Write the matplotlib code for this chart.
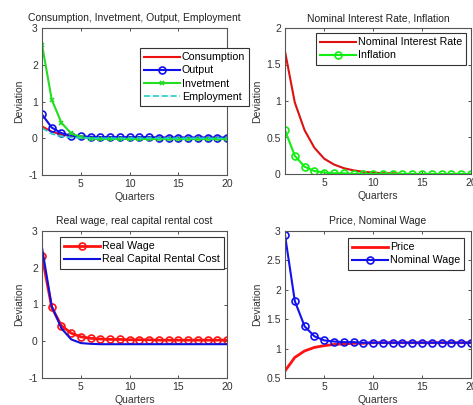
import matplotlib
matplotlib.use("Agg")
import matplotlib.pyplot as plt

plt.rcParams['font.family'] = ['Liberation Sans', 'DejaVu Sans']
plt.rcParams['axes.unicode_minus'] = False

quarters = list(range(1, 21))

# Panel 1: consumption, investment, output, employment
consumption = [0.32, 0.18, 0.10, 0.06, 0.04, 0.03, 0.02, 0.02, 0.01, 0.01,
               0.01, 0.01, 0.01, 0.01, 0.01, 0.01, 0.01, 0.01, 0.01, 0.01]
output = [0.65, 0.29, 0.14, 0.07, 0.05, 0.04, 0.03, 0.03, 0.03, 0.03,
          0.03, 0.03, 0.02, 0.02, 0.02, 0.02, 0.02, 0.02, 0.02, 0.02]
investment = [2.55, 1.05, 0.42, 0.13, 0.03, -0.01, -0.02, -0.02, -0.02, -0.02,
              -0.02, -0.02, -0.02, -0.02, -0.02, -0.02, -0.02, -0.02, -0.02, -0.02]
employment = [0.28, 0.12, 0.05, 0.02, 0.01, 0.00, 0.00, 0.00, 0.00, 0.00,
              0.00, 0.00, 0.00, 0.00, 0.00, 0.00, 0.00, 0.00, 0.00, 0.00]

# Panel 2: nominal interest rate, inflation
interest = [1.68, 0.98, 0.60, 0.36, 0.21, 0.13, 0.08, 0.05, 0.03, 0.02,
            0.01, 0.01, 0.00, 0.00, 0.00, 0.00, 0.00, 0.00, 0.00, 0.00]
inflation = [0.60, 0.25, 0.10, 0.04, 0.02, 0.01, 0.01, 0.00, 0.00, 0.00,
             0.00, 0.00, 0.00, 0.00, 0.00, 0.00, 0.00, 0.00, 0.00, 0.00]

# Panel 3: real wage, real capital rental cost
real_wage = [2.32, 0.92, 0.42, 0.22, 0.12, 0.08, 0.06, 0.05, 0.05, 0.04,
             0.04, 0.04, 0.03, 0.03, 0.03, 0.03, 0.03, 0.03, 0.03, 0.03]
rental_cost = [2.55, 0.95, 0.35, 0.05, -0.05, -0.07, -0.08, -0.08, -0.08, -0.08,
               -0.08, -0.08, -0.08, -0.08, -0.08, -0.08, -0.08, -0.08, -0.08, -0.08]

# Panel 4: price, nominal wage
price = [0.62, 0.85, 0.96, 1.02, 1.05, 1.07, 1.08, 1.09, 1.09, 1.10,
         1.10, 1.10, 1.10, 1.10, 1.10, 1.10, 1.10, 1.10, 1.10, 1.10]
nominal_wage = [2.93, 1.81, 1.38, 1.21, 1.14, 1.12, 1.11, 1.11, 1.10, 1.10,
                1.10, 1.10, 1.10, 1.10, 1.10, 1.10, 1.10, 1.10, 1.10, 1.10]

W, H = 473, 405
fig = plt.figure(figsize=(W / 100, H / 100), dpi=100)

def px_axes(left, top, right, bottom):
    return fig.add_axes([left / W, 1 - bottom / H, (right - left) / W, (bottom - top) / H])

FS = 7.5
LFS = 7.7
edge = '#555555'

def style(ax, title, ylim, yticks):
    ax.set_xlim(1, 20)
    ax.set_ylim(*ylim)
    ax.set_xticks([5, 10, 15, 20])
    ax.set_yticks(yticks)
    ax.set_yticklabels(['%g' % v for v in yticks])
    ax.tick_params(direction='in', top=True, right=True, length=2.5, width=0.6,
                   labelsize=FS, colors='#333333', pad=3)
    for s in ax.spines.values():
        s.set_color(edge)
        s.set_linewidth(0.8)
    ax.set_title(title, fontsize=FS, color='#222222', pad=5)
    ax.set_xlabel('Quarters', fontsize=FS, color='#333333', labelpad=2)
    ax.set_ylabel('Deviation', fontsize=FS, color='#333333', labelpad=3)

def legend(ax, x, y):
    leg = ax.legend(loc='upper left', bbox_to_anchor=(x / W, 1 - y / H),
                    bbox_transform=fig.transFigure, borderaxespad=0,
                    fontsize=LFS, fancybox=False, framealpha=1, edgecolor='#333333',
                    handlelength=3.3, handletextpad=0.2, labelspacing=0.3,
                    borderpad=0.4)
    leg.get_frame().set_linewidth(0.8)
    return leg

# Top-left
ax1 = px_axes(42, 28, 227, 175)
ax1.plot(quarters, consumption, color='#ee1111', lw=1.5, label='Consumption')
ax1.plot(quarters, output, color='#1010ee', lw=1.5, marker='o', ms=5,
         mfc='none', mew=1.2, label='Output')
ax1.plot(quarters, investment, color='#22dd22', lw=1.5, marker='x', ms=3,
         mew=1.2, label='Invetment')
ax1.plot(quarters, employment, color='#22cccc', lw=1.2, ls='--', label='Employment')
style(ax1, 'Consumption, Invetment, Output, Employment', (-1, 3), [-1, 0, 1, 2, 3])
legend(ax1, 140, 48)

# Top-right
ax2 = px_axes(285, 28, 471, 174)
ax2.plot(quarters, interest, color='#dd1111', lw=1.5, label='Nominal Interest Rate')
ax2.plot(quarters, inflation, color='#11ee11', lw=1.5, marker='o', ms=5,
         mfc='none', mew=1.2, label='Inflation')
style(ax2, 'Nominal Interest Rate, Inflation', (0, 2), [0, 0.5, 1, 1.5, 2])
legend(ax2, 316, 33)

# Bottom-left
ax3 = px_axes(42, 231, 227, 378)
ax3.plot(quarters, real_wage, color='#ff1111', lw=2, marker='o', ms=5,
         mfc='none', mew=1.2, label='Real Wage')
ax3.plot(quarters, rental_cost, color='#1111dd', lw=1.5, label='Real Capital Rental Cost')
style(ax3, 'Real wage, real capital rental cost', (-1, 3), [-1, 0, 1, 2, 3])
legend(ax3, 60, 237)

# Bottom-right
ax4 = px_axes(285, 231, 471, 378)
ax4.plot(quarters, price, color='#ff1111', lw=2, label='Price')
ax4.plot(quarters, nominal_wage, color='#1111ee', lw=1.5, marker='o', ms=5,
         mfc='none', mew=1.2, label='Nominal Wage')
style(ax4, 'Price, Nominal Wage', (0.5, 3), [0.5, 1, 1.5, 2, 2.5, 3])
legend(ax4, 348, 238)

fig.savefig('out.png', dpi=100)
